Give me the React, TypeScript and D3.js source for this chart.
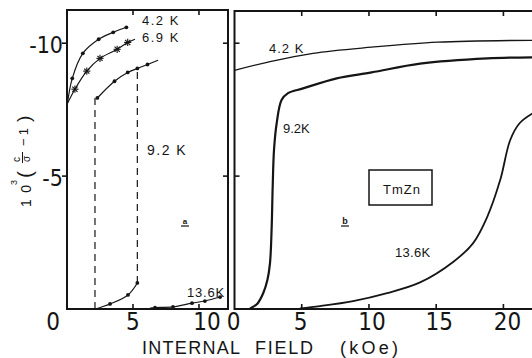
import * as d3 from 'd3';
import React from 'react';

// panel a (left): 10^3(c/sigma - 1) vs internal field, kOe
const aField42 = [0, 0.4, 1.2, 2.4, 3.5, 4.5];
const aVal42 = [-7.62, -8.68, -9.62, -10.15, -10.41, -10.6];
const aField69 = [0, 0.6, 1.5, 2.5, 3.8, 4.6, 5.15];
const aVal69 = [-7.7, -8.27, -8.95, -9.43, -9.77, -10.03, -10.15];
const aField92Up = [2.3, 3.6, 4.6, 5.33, 6.1, 6.9];
const aVal92Up = [-7.94, -8.57, -8.9, -9.05, -9.2, -9.36];
const aField92Lo = [2.12, 3.26, 4.62, 5.33];
const aVal92Lo = [0, -0.19, -0.53, -0.98];
const aJumpField = [2.12, 5.33];
const aJumpLow = [0, -0.98];
const aJumpHigh = [-7.94, -9.05];
const aField136 = [6.3, 6.67, 8.03, 9.47, 10.45, 11.6];
const aVal136 = [-0.03, -0.05, -0.08, -0.22, -0.3, -0.45];

// panel b (right)
const bField42 = [0, 2.5, 5.84, 10.2, 15.1, 22.2];
const bVal42 = [-8.98, -9.29, -9.62, -9.85, -10.04, -10.11];
const bField92 = [1.15, 1.7, 2.14, 2.45, 2.64, 2.76, 2.84, 2.94, 3.14, 3.5, 3.98, 5.1, 7.6, 10.2, 13.8, 18.8, 22.2];
const bVal92 = [-0.02, -0.2, -0.6, -1.1, -1.73, -3.0, -4.6, -6.0, -7.0, -7.86, -8.12, -8.3, -8.68, -8.9, -9.23, -9.43, -9.47];
const bField136 = [4.87, 6.36, 8.82, 11.35, 13.8, 16.26, 17.75, 18.79, 19.76, 20.5, 21.2, 22.2];
const bVal136 = [-0.02, -0.11, -0.3, -0.6, -1.0, -1.77, -2.48, -3.46, -4.85, -6.35, -6.99, -7.37];

const yTicks = [-10, -5];
const aTicks = [0, 5, 10];
const bTicks = [0, 5, 10, 15, 20];

type P = [number, number];
const zip = (xs: number[], ys: number[]): P[] => xs.map((x, i) => [x, ys[i]]);

const narrow = '"Liberation Sans Narrow", "DejaVu Sans Condensed", sans-serif';
const sans = '"Liberation Sans", Arial, sans-serif';

export default function App() {
  const width = 532;
  const height = 358;
  const top = 10;
  const bottom = 309;

  const y = d3.scaleLinear().domain([0, -11.25]).range([bottom, top]);
  const xa = d3.scaleLinear().domain([0, 12.2]).range([67, 228]);
  const xb = d3.scaleLinear().domain([0, 22.2]).range([234.5, 533]);

  const lineA = d3.line<P>().x(d => xa(d[0])).y(d => y(d[1])).curve(d3.curveCatmullRom.alpha(0.5));
  const lineB = d3.line<P>().x(d => xb(d[0])).y(d => y(d[1])).curve(d3.curveCatmullRom.alpha(0.5));

  const a42 = zip(aField42, aVal42);
  const a69 = zip(aField69, aVal69);
  const a92u = zip(aField92Up, aVal92Up);
  const a92l = zip(aField92Lo, aVal92Lo);
  const a136 = zip(aField136, aVal136);

  const ink = '#151515';
  const dot = (p: P, k: string) => (
    <circle key={k} cx={xa(p[0])} cy={y(p[1])} r={1.9} fill={ink} />
  );
  const star = (p: P, k: string) => {
    const cx = xa(p[0]);
    const cy = y(p[1]);
    const s = 3.6;
    const d = 2.6;
    return (
      <g key={k} stroke={ink} strokeWidth={1.1}>
        <line x1={cx - s} y1={cy} x2={cx + s} y2={cy} />
        <line x1={cx} y1={cy - s} x2={cx} y2={cy + s} />
        <line x1={cx - d} y1={cy - d} x2={cx + d} y2={cy + d} />
        <line x1={cx - d} y1={cy + d} x2={cx + d} y2={cy - d} />
      </g>
    );
  };

  return (
    <svg width={width} height={height} style={{ position: 'absolute', left: 0, top: 0, background: '#fff' }}>
      <rect width={width} height={height} fill="#fff" />

      {/* frames */}
      <g stroke={ink} strokeWidth={2} fill="none">
        <rect x={xa(0)} y={top} width={xa(12.2) - xa(0)} height={bottom - top} />
        <path d={`M${xb(22.2) + 2},${top + 1}H${xb(0)}V${bottom}H${xb(22.2) + 2}`} />
      </g>

      {/* ticks */}
      <g stroke={ink} strokeWidth={1.6}>
        {yTicks.map(t => (
          <g key={'ya' + t}>
            <line x1={xa(0) - 5} x2={xa(0)} y1={y(t)} y2={y(t)} />
            <line x1={xa(12.2) - 5} x2={xa(12.2)} y1={y(t)} y2={y(t)} />
            <line x1={xb(0)} x2={xb(0) + 5} y1={y(t)} y2={y(t)} />
          </g>
        ))}
        {aTicks.filter(t => t > 0).map(t => (
          <g key={'xa' + t}>
            <line x1={xa(t)} x2={xa(t)} y1={bottom} y2={bottom - 5} />
            <line x1={xa(t)} x2={xa(t)} y1={top} y2={top + 5} />
          </g>
        ))}
        {bTicks.filter(t => t > 0).map(t => (
          <g key={'xb' + t}>
            <line x1={xb(t)} x2={xb(t)} y1={bottom} y2={bottom - 5} />
            <line x1={xb(t)} x2={xb(t)} y1={top + 1} y2={top + 6} />
          </g>
        ))}
      </g>

      {/* tick labels */}
      <g fontFamily={narrow} fill={ink}>
        {yTicks.map(t => (
          <text key={'yl' + t} x={63} y={y(t) + 10} fontSize={23} textAnchor="end">
            {String(t)}
          </text>
        ))}
        {aTicks.map(t => (
          <text key={'al' + t} x={xa(t) + (t === 0 ? -14 : t === 10 ? 8 : 0)} y={330} fontSize={24} textAnchor="middle">
            {String(t)}
          </text>
        ))}
        {bTicks.map(t => (
          <text key={'bl' + t} x={xb(t) + (t === 0 ? -1 : t === 5 ? -1 : t === 20 ? 4 : 3)} y={330} fontSize={24} textAnchor="middle">
            {String(t)}
          </text>
        ))}
      </g>

      {/* axis titles */}
      <g fontFamily={sans} fill={ink} fontSize={18}>
        <text x={142} y={354} textLength={98} lengthAdjust="spacing">INTERNAL</text>
        <text x={255} y={354} textLength={58} lengthAdjust="spacing">FIELD</text>
        <text x={340} y={354} textLength={58} lengthAdjust="spacing">(kOe)</text>
      </g>
      <g transform="translate(31,207) rotate(-90)" fontFamily={sans} fill={ink}>
        <text x={0} y={0} fontSize={14} textLength={22} lengthAdjust="spacing">10</text>
        <text x={22} y={-14} fontSize={9}>3</text>
        <text x={29} y={1} fontSize={21}>(</text>
        <text x={45} y={-11} fontSize={10}>c</text>
        <line x1={44} x2={55} y1={-8.5} y2={-8.5} stroke={ink} strokeWidth={1} />
        <text x={45} y={-1} fontSize={10}>σ</text>
        <text x={61} y={-3} fontSize={13} textLength={18} lengthAdjust="spacing">−1</text>
        <text x={85} y={-1} fontSize={19}>)</text>
      </g>

      {/* panel a curves */}
      <g fill="none" stroke={ink} strokeWidth={1.2}>
        <path d={lineA(a42) ?? ''} />
        <path d={lineA(a69) ?? ''} />
        <path d={lineA(a92u) ?? ''} />
        <path d={lineA(a92l) ?? ''} />
        <path d={lineA(a136) ?? ''} />
        {aJumpField.map((f, i) => (
          <line key={'j' + i} x1={xa(f)} x2={xa(f)} y1={y(aJumpLow[i])} y2={y(aJumpHigh[i])} strokeDasharray="7,5" />
        ))}
      </g>
      {a42.slice(1).map((p, i) => dot(p, 'd42' + i))}
      {a69.slice(1, 6).map((p, i) => star(p, 's69' + i))}
      {a92u.slice(0, 5).map((p, i) => dot(p, 'd92u' + i))}
      {a92l.slice(1).map((p, i) => dot(p, 'd92l' + i))}
      {a136.slice(1).map((p, i) => dot(p, 'd136' + i))}

      {/* panel b curves */}
      <g fill="none" stroke={ink}>
        <path d={lineB(zip(bField42, bVal42)) ?? ''} strokeWidth={1.3} />
        <path d={lineB(zip(bField92, bVal92)) ?? ''} strokeWidth={2.2} />
        <path d={lineB(zip(bField136, bVal136)) ?? ''} strokeWidth={1.8} />
      </g>

      {/* annotations */}
      <g fontFamily={sans} fill={ink} fontSize={13} letterSpacing={1.5}>
        <text x={142} y={25}>4.2 K</text>
        <text x={142} y={42}>6.9 K</text>
        <text x={147} y={155} fontSize={14}>9.2 K</text>
        <text x={187} y={297} letterSpacing={0.8}>13.6K</text>
        <text x={269} y={53} letterSpacing={1}>4.2 K</text>
        <text x={283} y={133} letterSpacing={0}>9.2K</text>
        <text x={395} y={257} letterSpacing={0.3}>13.6K</text>
        <text x={402} y={194} textAnchor="middle" letterSpacing={1}>TmZn</text>
        <text x={185} y={224} fontSize={8} fontWeight="bold" letterSpacing={0} textAnchor="middle">a</text>
        <text x={345} y={224} fontSize={9} fontWeight="bold" letterSpacing={0} textAnchor="middle">b</text>
      </g>
      <rect x={369} y={170} width={63} height={35} fill="none" stroke={ink} strokeWidth={1.5} />
      <g stroke={ink} strokeWidth={1.2}>
        <line x1={181} x2={189} y1={226} y2={226} />
        <line x1={341} x2={349} y1={226} y2={226} />
      </g>
    </svg>
  );
}
